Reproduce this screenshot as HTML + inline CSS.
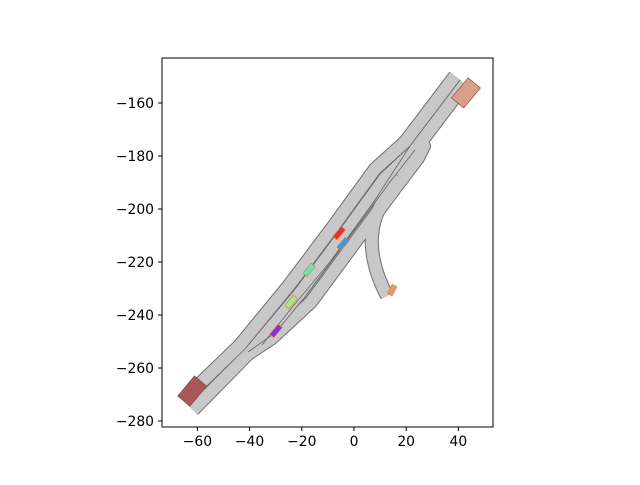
<!DOCTYPE html>
<html><head><meta charset="utf-8"><style>
body{margin:0;background:#fff}
svg text{font-family:"DejaVu Sans","Liberation Sans",sans-serif;font-size:13.9px;fill:#000}
</style></head><body>
<svg id="c" width="640" height="480">
<rect x="0" y="0" width="640" height="480" fill="#fff"/>
<g id="roads" fill="none" stroke-linejoin="round">
 <g stroke="#6e6e6e" stroke-width="14">
  <path d="M183,400 L240,345 L290,284 L335,224 L375,169 L405,142 L455,76"/>
  <path d="M193,410 L250,352 L300,293 L345,232 L385,178 L415,150 L465,84"/>
  <path stroke-linecap="round" d="M245,356 L272,338 L311,302 L356,241 L396,187 L418,158 L424,146"/>
  <path d="M400,180 C375,205 358,240 387,296"/>
 </g>
 <g stroke="#c8c8c8" stroke-width="12">
  <path d="M183,400 L240,345 L290,284 L335,224 L375,169 L405,142 L455,76"/>
  <path d="M193,410 L250,352 L300,293 L345,232 L385,178 L415,150 L465,84"/>
  <path stroke-linecap="round" d="M245,356 L272,338 L311,302 L356,241 L396,187 L418,158 L424,146"/>
  <path d="M400,180 C375,205 358,240 387,296"/>
 </g>
 <g stroke="#666" stroke-width="0.8">
  <path d="M188,405 L245,349 L295,289 L340,229 L380,174 L410,146 L460,80"/>
  <path d="M248,352 L275,333 L305,297 L350,236 L390,182 L415,150"/>
  <path d="M262,345 L290,310 L330,262 L375,200 L410,146"/>
 </g>
</g>
<g id="vehicles"></g>
<g id="axes"></g>
</svg>
<script>
const xTicks=[-60,-40,-20,0,20,40];
const yTicks=[-160,-180,-200,-220,-240,-260,-280];
const vehX=[-5.7,-4.2,-17.2,-24.1,-29.9,14.6,-62,42.9];
const vehY=[-209.1,-213.2,-223,-235.1,-246,-230.6,-268.7,-156.2];
const vehColor=["#e8302a","#3a9ad9","#5de8c0","#a8e890","#8a2be2","#f0956a","#a85858","#d8a088"];
const vehLen=[5,5,5,5,5,4,10,10];
const vehWid=[2,2,2,2,2,2,6,6];
const X=x=>354+x*2.61, Y=y=>103-(y+160)*2.65;
const NS="http://www.w3.org/2000/svg";
const vg=document.getElementById('vehicles');
for(let i=0;i<vehX.length;i++){
 const r=document.createElementNS(NS,'rect');
 const w=vehLen[i]*2.61,h=vehWid[i]*2.65;
 r.setAttribute('x',X(vehX[i])-w/2);r.setAttribute('y',Y(vehY[i])-h/2);
 r.setAttribute('width',w);r.setAttribute('height',h);
 r.setAttribute('fill',vehColor[i]);r.setAttribute('stroke',i>=6?'#8b3a3a':'#d08040');r.setAttribute('stroke-width','0.6');
 const ang=i==5?-62:-50;
 r.setAttribute('transform',`rotate(${ang} ${X(vehX[i])} ${Y(vehY[i])})`);
 
 
 vg.appendChild(r);
}
const ag=document.getElementById('axes');
const fr=document.createElementNS(NS,'rect');
fr.setAttribute('x',162);fr.setAttribute('y',58);fr.setAttribute('width',331);fr.setAttribute('height',369);
fr.setAttribute('fill','none');fr.setAttribute('stroke','#000');fr.setAttribute('stroke-width','1');


ag.appendChild(fr);
xTicks.forEach(t=>{
 const l=document.createElementNS(NS,'line');
 l.setAttribute('x1',X(t));l.setAttribute('x2',X(t));l.setAttribute('y1',427);l.setAttribute('y2',431);l.setAttribute('stroke','#000');
 
 
 ag.appendChild(l);
 const tx=document.createElementNS(NS,'text');
 tx.setAttribute('x',X(t));tx.setAttribute('y',446);tx.setAttribute('text-anchor','middle');
 tx.textContent=t<0?'\u2212'+(-t):t;
 
 
 ag.appendChild(tx);
});
yTicks.forEach(t=>{
 const l=document.createElementNS(NS,'line');
 l.setAttribute('x1',158);l.setAttribute('x2',162);l.setAttribute('y1',Y(t));l.setAttribute('y2',Y(t));l.setAttribute('stroke','#000');
 
 
 ag.appendChild(l);
 const tx=document.createElementNS(NS,'text');
 tx.setAttribute('x',154);tx.setAttribute('y',Y(t)+5);tx.setAttribute('text-anchor','end');
 tx.textContent='\u2212'+(-t);
 
 
 ag.appendChild(tx);
});
</script>
</body></html>
